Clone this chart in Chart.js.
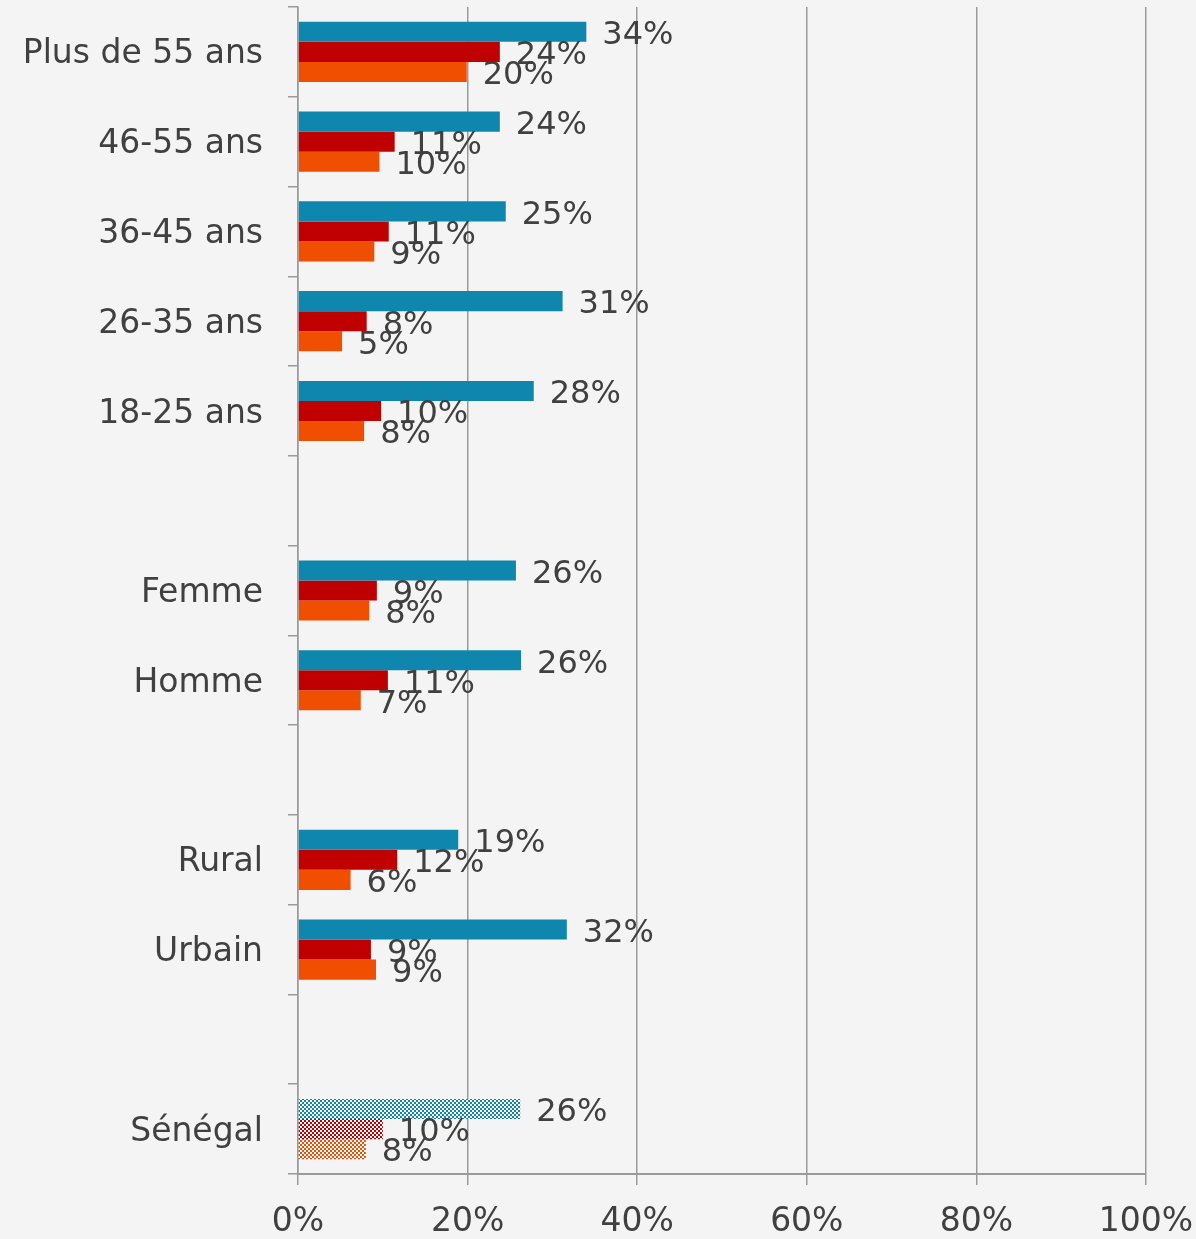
<!DOCTYPE html>
<html lang="fr">
<head>
<meta charset="UTF-8">
<title>Répartition par groupe</title>
<script src="https://cdn.jsdelivr.net/npm/chart.js"></script>
<style>
  html, body { margin: 0; padding: 0; background: #f4f4f4; overflow: hidden; }
  canvas { display: block; }
</style>
</head>
<body>
<canvas id="chart" width="1196" height="1239"></canvas>
<script>
// categories (top to bottom), empty strings are spacer rows
const categories = ['Plus de 55 ans', '46-55 ans', '36-45 ans', '26-35 ans', '18-25 ans', '',
                    'Femme', 'Homme', '', 'Rural', 'Urbain', '', 'Sénégal'];
const serieBleue  = [34, 23.8, 24.5, 31.2, 27.8, null, 25.7, 26.3, null, 18.9, 31.7, null, 26.2];
const serieRouge  = [23.8, 11.4, 10.7, 8.1, 9.8, null, 9.3, 10.6, null, 11.7, 8.6, null, 10.0];
const serieOrange = [19.9, 9.6, 9.0, 5.2, 7.8, null, 8.4, 7.4, null, 6.2, 9.2, null, 8.0];
const xTicks = [0, 20, 40, 60, 80, 100];

const FONT = "'DejaVu Sans', sans-serif";
const TXT = '#404040';

// checkered pattern for the national (Sénégal) bars
function checker(color) {
  const c = document.createElement('canvas');
  c.width = 4; c.height = 4;
  const g = c.getContext('2d');
  g.fillStyle = '#ffffff';
  g.fillRect(0, 0, 4, 4);
  g.fillStyle = color;
  g.fillRect(0, 0, 2, 2);
  g.fillRect(2, 2, 2, 2);
  return g.createPattern(c, 'repeat');
}
function colors(color) {
  return categories.map(c => c === 'Sénégal' ? checker(color) : color);
}

const valueLabels = {
  id: 'valueLabels',
  afterDatasetsDraw(chart) {
    const ctx = chart.ctx;
    ctx.save();
    ctx.font = '32px ' + FONT;
    ctx.fillStyle = TXT;
    ctx.textAlign = 'left';
    ctx.textBaseline = 'middle';
    chart.data.datasets.forEach((ds, i) => {
      chart.getDatasetMeta(i).data.forEach((bar, j) => {
        const v = ds.data[j];
        if (v === null) return;
        ctx.fillText(Math.round(v) + '%', bar.x + 16, bar.y + 4);
      });
    });
    ctx.restore();
  }
};

const bg = {
  id: 'bg',
  beforeDraw(chart) {
    const ctx = chart.ctx;
    ctx.save();
    ctx.fillStyle = '#f4f4f4';
    ctx.fillRect(0, 0, chart.width, chart.height);
    ctx.restore();
  }
};

new Chart(document.getElementById('chart'), {
  type: 'bar',
  data: {
    labels: categories,
    datasets: [
      { label: 'Bleu', data: serieBleue, backgroundColor: colors('#0f86ae') },
      { label: 'Rouge', data: serieRouge, backgroundColor: colors('#c00000') },
      { label: 'Orange', data: serieOrange, backgroundColor: colors('#f04e00') }
    ]
  },
  options: {
    indexAxis: 'y',
    responsive: false,
    animation: false,
    devicePixelRatio: 1,
    layout: { padding: { top: 7, right: 50, left: 0, bottom: 0 } },
    datasets: { bar: { barPercentage: 1, categoryPercentage: 0.67 } },
    plugins: { legend: { display: false }, tooltip: { enabled: false } },
    scales: {
      x: {
        min: 0, max: 100,
        afterBuildTicks: s => { s.ticks = xTicks.map(v => ({ value: v })); },
        afterFit: s => { s.height = 65; s.paddingLeft = 0; s.paddingRight = 0; },
        grid: { color: '#9a9a9a', lineWidth: 1.5, tickLength: 11, drawTicks: true },
        border: { color: '#9a9a9a', width: 2 },
        ticks: { color: TXT, font: { family: FONT, size: 33 }, padding: 18, callback: v => v + '%' }
      },
      y: {
        afterFit: s => { s.width = 298; s.paddingTop = 0; s.paddingBottom = 0; },
        grid: { offset: true, drawOnChartArea: false, color: '#9a9a9a', lineWidth: 1.5, tickLength: 10 },
        border: { color: '#9a9a9a', width: 1.5 },
        ticks: { color: TXT, font: { family: FONT, size: 33 }, padding: 25, labelOffset: 3, autoSkip: false }
      }
    }
  },
  plugins: [bg, valueLabels]
});
</script>
</body>
</html>
